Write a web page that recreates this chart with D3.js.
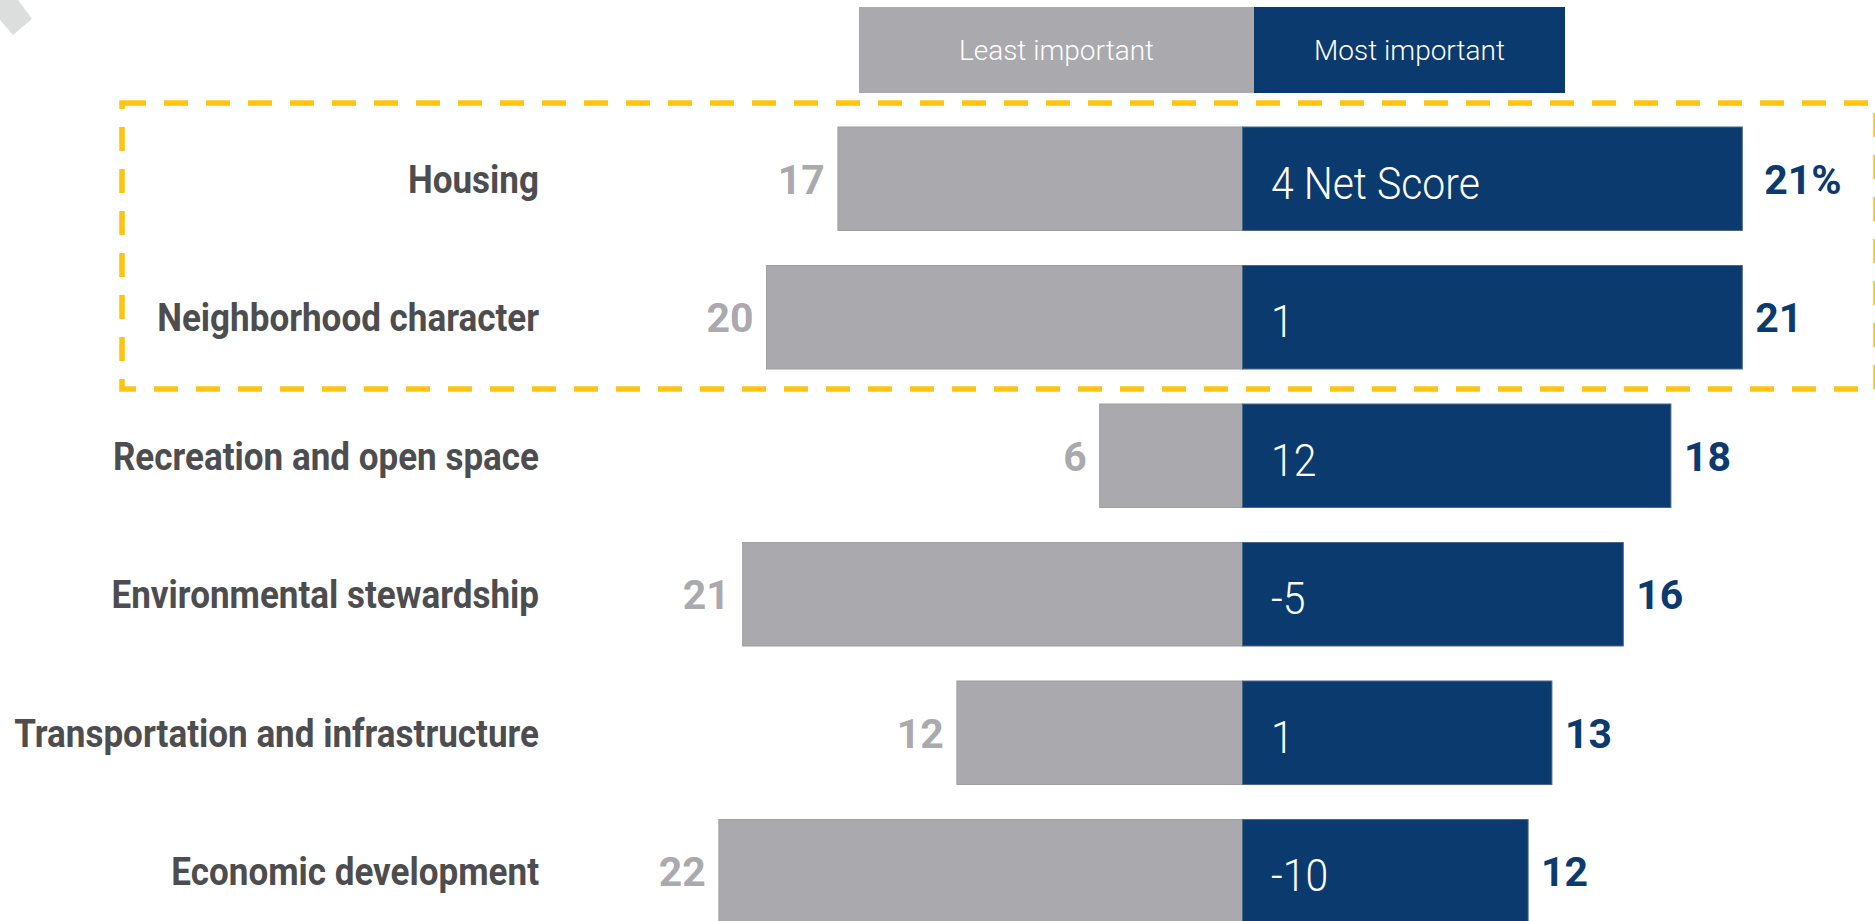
<!DOCTYPE html>
<html>
<head>
<meta charset="utf-8">
<script src="https://cdn.jsdelivr.net/npm/d3@7"></script>
<style>
  html, body { margin: 0; padding: 0; background: #fff; overflow: hidden; }
  svg { display: block; font-family: Roboto, "DejaVu Sans", sans-serif; }
</style>
</head>
<body>
<svg width="1875" height="921"></svg>
<script>
// values
let categories = [
  'Housing',
  'Neighborhood character',
  'Recreation and open space',
  'Environmental stewardship',
  'Transportation and infrastructure',
  'Economic development'
];
let leastImportant = [17, 20, 6, 21, 12, 22];
let mostImportant = [21, 21, 18, 16, 13, 12];
let netScore = [4, 1, 12, -5, 1, -10];
let legendLabels = ['Least important', 'Most important'];

let gray = '#aaa9ad';
let navy = '#0b3a6e';

let svg = d3.select('svg');

// 23.8 px per point, zero line at 1242.5
let x = d3.scaleLinear()
  .domain([-22, 22])
  .range([1242.5 - 22 * 23.8, 1242.5 + 22 * 23.8]);

let y = d3.scaleBand()
  .domain(categories)
  .range([127, 923])
  .paddingInner(0.2527)
  .paddingOuter(0);

let rows = categories.map((c, i) => ({
  cat: c,
  least: leastImportant[i],
  most: mostImportant[i],
  net: netScore[i],
  i: i
}));

// little grey diamond in the corner
svg.append('path')
  .attr('d', 'M0,0 L18,0 L32,19 L13,35 L0,20 Z')
  .attr('fill', '#dcdddd');

// legend
let legend = svg.append('g');
let legendBoxes = [
  {x0: 859, x1: 1254, fill: gray, text: legendLabels[0]},
  {x0: 1254, x1: 1565, fill: navy, text: legendLabels[1]}
];
legend.selectAll('rect')
  .data(legendBoxes)
  .enter()
  .append('rect')
  .attr('x', d => d.x0)
  .attr('y', 7)
  .attr('width', d => d.x1 - d.x0)
  .attr('height', 86)
  .attr('fill', d => d.fill);
legend.selectAll('text')
  .data(legendBoxes)
  .enter()
  .append('text')
  .attr('x', d => (d.x0 + d.x1) / 2)
  .attr('y', 60)
  .attr('text-anchor', 'middle')
  .attr('font-size', 28)
  .attr('font-weight', 300)
  .attr('fill', '#fff')
  .text(d => d.text);

// bars
svg.selectAll('rect.least')
  .data(rows)
  .enter()
  .append('rect')
  .attr('class', 'least')
  .attr('x', d => x(-d.least))
  .attr('y', d => y(d.cat))
  .attr('width', d => x(0) - x(-d.least))
  .attr('height', y.bandwidth())
  .attr('fill', gray)
  .attr('stroke', '#9f9ea3')
  .attr('stroke-width', 1);

svg.selectAll('rect.most')
  .data(rows)
  .enter()
  .append('rect')
  .attr('class', 'most')
  .attr('x', x(0))
  .attr('y', d => y(d.cat))
  .attr('width', d => x(d.most) - x(0))
  .attr('height', y.bandwidth())
  .attr('fill', navy)
  .attr('stroke', '#4c6688')
  .attr('stroke-width', 1);

let mid = d => y(d.cat) + y.bandwidth() / 2;

// category labels
svg.selectAll('text.cat')
  .data(rows)
  .enter()
  .append('text')
  .attr('class', 'cat')
  .attr('transform', d => `translate(539,${mid(d) + 14}) scale(0.922,1)`)
  .attr('text-anchor', 'end')
  .attr('font-size', 38)
  .attr('font-weight', 700)
  .attr('fill', '#4d4d4f')
  .text(d => d.cat);

// least important values
svg.selectAll('text.leastVal')
  .data(rows)
  .enter()
  .append('text')
  .attr('class', 'leastVal')
  .attr('x', d => x(-d.least) - 13)
  .attr('y', d => mid(d) + 15)
  .attr('text-anchor', 'end')
  .attr('font-size', 41)
  .attr('font-weight', 700)
  .attr('fill', gray)
  .text(d => d.least);

// most important values (first one carries the % sign)
svg.selectAll('text.mostVal')
  .data(rows)
  .enter()
  .append('text')
  .attr('class', 'mostVal')
  .attr('x', d => x(d.most) + (d.i === 0 ? 22 : 13))
  .attr('y', d => mid(d) + 15)
  .attr('text-anchor', 'start')
  .attr('font-size', 41)
  .attr('font-weight', 700)
  .attr('fill', navy)
  .text(d => d.i === 0 ? d.most + '%' : d.most);

// net score inside the blue bars
svg.selectAll('text.net')
  .data(rows)
  .enter()
  .append('text')
  .attr('class', 'net')
  .attr('transform', d => `translate(${x(0) + 28.5},${mid(d) + 20}) scale(0.93,1)`)
  .attr('font-size', 44)
  .attr('font-weight', 300)
  .attr('fill', '#fff')
  .text(d => d.i === 0 ? d.net + ' Net Score' : d.net);

// dashed highlight round the first two rows
svg.append('rect')
  .attr('x', 122)
  .attr('y', 103)
  .attr('width', 1754)
  .attr('height', 286)
  .attr('fill', 'none')
  .attr('stroke', '#ffc40f')
  .attr('stroke-width', 5.5)
  .attr('stroke-dasharray', '24 18');
</script>
</body>
</html>
